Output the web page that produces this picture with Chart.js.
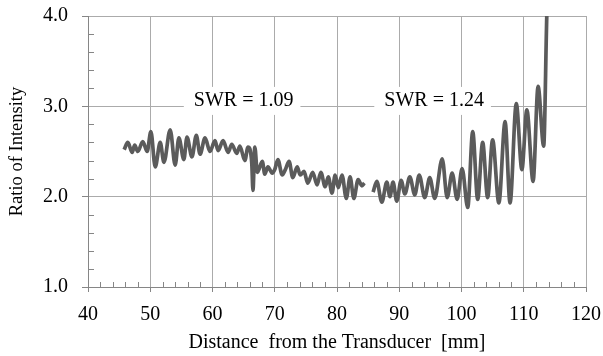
<!DOCTYPE html>
<html>
<head>
<meta charset="utf-8">
<script src="https://cdn.jsdelivr.net/npm/chart.js@4.4.1/dist/chart.umd.min.js"></script>
<style>
  html, body { margin: 0; padding: 0; background: #fff; }
  #wrap { width: 603px; height: 356px; }
</style>
</head>
<body>
<div id="wrap"><canvas id="chart" width="603" height="356"></canvas></div>
<script>
// distance from transducer [mm] and measured intensity ratio (null = gap in the record)
const distanceMm = [
    45.8, 46.4, 47.1, 47.5, 48.0, 48.8, 49.5, 50.1, 50.8, 51.6,
    52.2, 53.2, 54.0, 54.6, 55.4, 55.9, 56.7, 57.4, 58.0, 58.8,
    59.6, 60.4, 60.9, 61.7, 62.5, 63.1, 63.9, 64.4, 65.2, 65.7,
    66.3, 66.5, 66.8, 67.2, 68.0, 68.4, 68.9, 69.6, 70.0, 70.5,
    71.2, 71.7, 72.3, 72.9, 73.6, 74.1, 74.7, 75.3, 76.1, 76.8,
    77.4, 78.1, 78.6, 79.2, 79.7, 80.2, 80.8, 81.5, 82.1, 82.7,
    83.4, 84.0, 84.4, 85.1,
    85.8, 86.4, 87.2, 88.0, 88.5, 89.0, 89.6, 90.3, 90.9, 91.7,
    92.5, 93.2, 94.1, 94.9, 95.7, 96.9, 97.7, 98.5, 99.3, 100.1,
    101.0, 101.8, 102.6, 103.4, 104.2, 105.0, 106.0, 107.0, 107.8, 108.8,
    109.7, 110.5, 111.5, 112.3, 113.2, 113.7, 113.9
];
const intensityRatio = [
    2.52, 2.60, 2.49, 2.57, 2.50, 2.61, 2.50, 2.72, 2.33, 2.60,
    2.38, 2.74, 2.35, 2.65, 2.41, 2.66, 2.44, 2.68, 2.47, 2.65,
    2.50, 2.62, 2.51, 2.62, 2.49, 2.58, 2.48, 2.56, 2.40, 2.55,
    2.38, 2.07, 2.55, 2.27, 2.39, 2.25, 2.33, 2.26, 2.30, 2.41,
    2.24, 2.30, 2.39, 2.21, 2.33, 2.24, 2.28, 2.15, 2.27, 2.13,
    2.27, 2.11, 2.22, 2.04, 2.24, 2.10, 2.24, 1.98, 2.22, 1.98,
    2.19, 2.12, 2.15, null,
    2.05, 2.17, 1.94, 2.16, 2.00, 2.16, 1.95, 2.18, 2.03, 2.22,
    2.02, 2.24, 1.99, 2.21, 1.98, 2.42, 1.99, 2.26, 1.97, 2.31,
    1.88, 2.72, 1.97, 2.60, 1.99, 2.63, 1.93, 2.83, 1.93, 3.03,
    2.30, 2.96, 2.17, 3.22, 2.56, 4.00, 4.40
];

// axis ranges / ticks
const xRange = [40, 120];
const yRange = [1.0, 4.0];
const xMajorStep = 10, xMinorStep = 2;
const yMajorStep = 1, yMinorStep = 0.2;

// in-plot annotations
const annotationTexts = ["SWR = 1.09", "SWR = 1.24"];
const annotationX = [65.0, 95.6];
const annotationY = [3.06, 3.06];

const FONT = '"Liberation Serif", "Times New Roman", serif';
const AXIS_COLOR = "#868686";
const GRID_COLOR = "#ababab";

const points = distanceMm.map((d, i) => ({ x: d, y: intensityRatio[i] }));

// ================================
// minor ticks drawn inward
// ================================
const minorTicks = {
    id: "minorTicks",
    afterDraw(chart) {
        const { ctx, scales: { x, y } } = chart;
        ctx.save();
        ctx.strokeStyle = AXIS_COLOR;
        ctx.lineWidth = 1;
        ctx.beginPath();
        for (let v = xRange[0] + xMinorStep; v < xRange[1]; v += xMinorStep) {
            if (Math.abs(v % xMajorStep) < 1e-6) continue;
            const px = Math.round(x.getPixelForValue(v)) + 0.5;
            ctx.moveTo(px, y.bottom);
            ctx.lineTo(px, y.bottom - 5);
        }
        for (let k = 1; k < Math.round((yRange[1] - yRange[0]) / yMinorStep); k++) {
            if (k % 5 === 0) continue;
            const v = yRange[0] + k * yMinorStep;
            const py = Math.round(y.getPixelForValue(v)) + 0.5;
            ctx.moveTo(x.left, py);
            ctx.lineTo(x.left + 6, py);
        }
        ctx.stroke();
        ctx.restore();
    }
};

// ================================
// SWR labels on white boxes
// ================================
const swrLabels = {
    id: "swrLabels",
    beforeDatasetsDraw(chart) {
        const { ctx, scales: { x, y } } = chart;
        ctx.save();
        ctx.font = "20px " + FONT;
        ctx.textAlign = "center";
        ctx.textBaseline = "middle";
        annotationTexts.forEach((t, i) => {
            const cx = x.getPixelForValue(annotationX[i]);
            const cy = y.getPixelForValue(annotationY[i]);
            const w = ctx.measureText(t).width;
            ctx.fillStyle = "#fff";
            ctx.fillRect(cx - w / 2 - 10, cy - 14, w + 17, 28);
            ctx.fillStyle = "#000";
            ctx.fillText(t, cx, cy);
        });
        ctx.restore();
    }
};

new Chart(document.getElementById("chart").getContext("2d"), {
    type: "line",
    data: {
        datasets: [{
            data: points,
            borderColor: "#5b5b5b",
            borderWidth: 3.7,
            pointRadius: 0,
            fill: false,
            spanGaps: false,
            cubicInterpolationMode: "monotone"
        }]
    },
    options: {
        responsive: false,
        animation: false,
        devicePixelRatio: 1,
        layout: { padding: { top: 16, right: 17, left: 0, bottom: 0 } },
        plugins: {
            legend: { display: false },
            tooltip: { enabled: false }
        },
        scales: {
            x: {
                type: "linear",
                min: xRange[0],
                max: xRange[1],
                afterFit(scale) {
                    scale.height = 69;
                    scale.paddingLeft = 0;
                    scale.paddingRight = 0;
                },
                ticks: {
                    stepSize: xMajorStep,
                    color: "#000",
                    padding: 11,
                    maxRotation: 0,
                    font: { family: FONT, size: 20 }
                },
                grid: { color: GRID_COLOR, tickColor: AXIS_COLOR, tickLength: 5 },
                border: { color: AXIS_COLOR },
                title: {
                    display: true,
                    text: "Distance  from the Transducer  [mm]",
                    color: "#000",
                    font: { family: FONT, size: 20 },
                    padding: { top: 0, bottom: 1 }
                }
            },
            y: {
                min: yRange[0],
                max: yRange[1],
                afterFit(scale) {
                    scale.width = 88;
                    scale.paddingTop = 0;
                    scale.paddingBottom = 0;
                },
                ticks: {
                    stepSize: yMajorStep,
                    color: "#000",
                    padding: 14,
                    font: { family: FONT, size: 20 },
                    callback: v => v.toFixed(1)
                },
                grid: { color: GRID_COLOR, tickColor: AXIS_COLOR, tickLength: 6 },
                border: { color: AXIS_COLOR },
                title: {
                    display: true,
                    text: "Ratio of Intensity",
                    color: "#000",
                    font: { family: FONT, size: 18.5 },
                    padding: { top: 6, bottom: 0 }
                }
            }
        }
    },
    plugins: [minorTicks, swrLabels]
});
</script>
</body>
</html>
